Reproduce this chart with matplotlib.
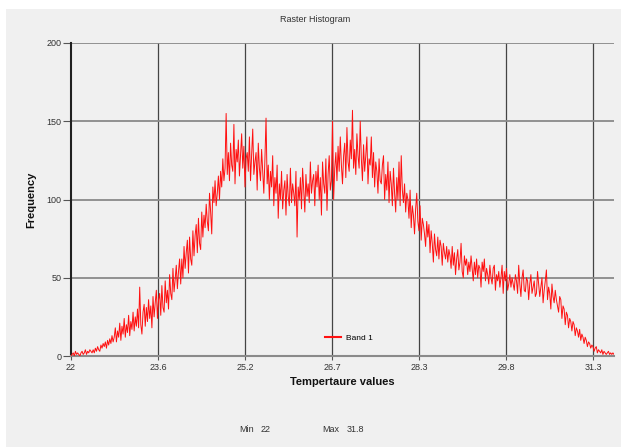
import numpy as np
import matplotlib
matplotlib.use("Agg")
import matplotlib.pyplot as plt
from matplotlib.patches import Rectangle

plt.rcParams['font.family'] = ['Liberation Sans', 'DejaVu Sans']

# histogram bins: start, width, and counts
bin_start = 22.0
bin_width = 0.02
frequency = [
    0, 1, 2, 0, 3, 1, 2, 1, 0, 2, 3, 1, 2, 4, 1, 3, 2, 4, 3, 2,
    4, 2, 5, 3, 6, 4, 3, 7, 5, 8, 6, 9, 5, 10, 7, 11, 8, 13, 9, 12,
    18, 9, 16, 12, 21, 10, 19, 14, 24, 12, 20, 15, 26, 13, 22, 17, 28, 16, 25, 19,
    30, 18, 44, 20, 14, 28, 33, 19, 31, 22, 36, 24, 32, 18, 38, 25, 34, 42, 24, 36,
    40, 26, 45, 31, 28, 48, 34, 42, 30, 52, 40, 36, 56, 41, 49, 58, 43, 54, 62, 46,
    62, 50, 70, 56, 66, 74, 53, 76, 62, 58, 80, 64, 77, 84, 66, 88, 72, 68, 92, 76,
    90, 82, 97, 86, 80, 104, 92, 78, 108, 98, 112, 96, 104, 115, 100, 118, 108, 126, 112, 120,
    155, 116, 130, 112, 136, 122, 118, 148, 110, 132, 124, 138, 115, 128, 142, 120, 134, 108, 126, 130,
    118, 140, 112, 128, 145, 116, 124, 130, 106, 136, 120, 112, 132, 118, 104, 126, 152, 110, 122, 100,
    118, 108, 128, 96, 114, 104, 122, 88, 110, 100, 118, 94, 106, 112, 90, 116, 102, 96, 120, 98,
    110, 104, 96, 118, 76, 108, 100, 114, 94, 120, 106, 92, 116, 102, 110, 98, 124, 104, 112, 116,
    96, 118, 108, 122, 100, 114, 90, 124, 110, 104, 126, 93, 116, 128, 106, 112, 150, 100, 120, 130,
    112, 134, 118, 140, 122, 110, 128, 136, 114, 146, 124, 118, 138, 126, 157, 120, 132, 116, 142, 128,
    120, 150, 126, 112, 135, 118, 128, 140, 110, 126, 122, 140, 114, 130, 108, 124, 118, 104, 126, 112,
    110, 122, 128, 100, 116, 106, 124, 98, 118, 110, 96, 120, 104, 92, 114, 100, 124, 96, 128, 106,
    98, 110, 92, 104, 100, 88, 106, 82, 96, 90, 78, 94, 104, 86, 80, 96, 74, 88, 84, 78,
    70, 86, 76, 84, 66, 80, 72, 60, 78, 68, 64, 76, 62, 74, 70, 58, 72, 66, 62, 70,
    60, 68, 64, 56, 70, 58, 66, 52, 62, 68, 55, 60, 72, 54, 50, 64, 58, 62, 52, 60,
    54, 64, 56, 48, 60, 52, 62, 50, 58, 56, 44, 60, 54, 62, 48, 56, 52, 46, 58, 50,
    46, 56, 58, 42, 52, 48, 54, 44, 50, 58, 40, 54, 48, 56, 42, 46, 52, 44, 50, 46,
    42, 52, 48, 40, 58, 46, 38, 50, 55, 42, 41, 50, 48, 36, 46, 52, 40, 44, 48, 38,
    40, 54, 46, 38, 44, 50, 34, 42, 48, 55, 36, 44, 40, 30, 46, 38, 34, 42, 36, 32,
    28, 38, 36, 24, 32, 30, 20, 28, 26, 18, 24, 22, 16, 22, 20, 13, 18, 16, 12, 17,
    10, 14, 12, 8, 12, 10, 6, 9, 8, 5, 7, 6, 3, 5, 6, 2, 4, 3, 2, 4,
    1, 3, 2, 1, 2, 3, 1, 2, 1, 2, 1,
]
temperature = bin_start + bin_width * np.arange(len(frequency))

x_tick_labels = ['22', '23.6', '25.2', '26.7', '28.3', '29.8', '31.3']
x_tick_step = 1.57
y_ticks = [0, 50, 100, 150, 200]
stat_min = 22
stat_max = 31.8

fig = plt.figure(figsize=(6.21, 4.47), dpi=100, facecolor='white')
# grey panel behind everything (white strip left and top)
fig.patches.append(Rectangle((6 / 621, 0), 1, (447 - 9) / 447,
                             transform=fig.transFigure, facecolor='#F0F0F0',
                             edgecolor='none', zorder=-10))

ax = fig.add_axes([71 / 621, 91 / 447, 543 / 621, 313 / 447])
ax.set_facecolor('#F0F0F0')

ax.plot(temperature, frequency, color='#FF1010', lw=0.7, label='Band 1', zorder=3)

ax.set_xlim(bin_start, stat_max)
ax.set_ylim(0, 200)
xt = [bin_start + k * x_tick_step for k in range(len(x_tick_labels))]
ax.set_xticks(xt)
ax.set_xticklabels(x_tick_labels)
ax.set_yticks(y_ticks)

for v in xt[1:]:
    ax.axvline(v, color='#444444', lw=0.9, zorder=1)
for v in y_ticks[1:]:
    ax.axhline(v, color='#8a8a8a', lw=1.3, zorder=1)

ax.spines['left'].set_color('#202020')
ax.spines['left'].set_linewidth(1.5)
ax.spines['bottom'].set_color('#8a8a8a')
ax.spines['bottom'].set_linewidth(1.5)
ax.spines['top'].set_visible(False)
ax.spines['right'].set_visible(False)

ax.tick_params(axis='y', length=6, width=0.8, color='#555555', labelsize=6.5,
               labelcolor='#333333', pad=1)
ax.tick_params(axis='x', length=3, width=0.8, color='#555555', labelsize=6.5,
               labelcolor='#333333', pad=2)

leg = ax.legend(loc='center left', bbox_to_anchor=(317 / 621, (447 - 338) / 447),
                bbox_transform=fig.transFigure, frameon=False, fontsize=6,
                handlelength=2.0, handletextpad=0.6)
for h in leg.get_lines():
    h.set_linewidth(1.5)

fig.text(315 / 621, (447 - 19) / 447, 'Raster Histogram', ha='center', va='center',
         fontsize=6.5, color='#333333')
fig.text(31 / 621, (447 - 200) / 447, 'Frequency', rotation=90, ha='center',
         va='center', fontsize=8, fontweight='bold', color='#111111')
fig.text(342 / 621, (447 - 382) / 447, 'Tempertaure values', ha='center',
         va='center', fontsize=8, fontweight='bold', color='#111111')
fig.text(239 / 621, (447 - 429) / 447, 'Min', ha='left', va='center',
         fontsize=6.5, color='#333333')
fig.text(261 / 621, (447 - 429) / 447, str(stat_min), ha='left', va='center',
         fontsize=6.5, color='#333333')
fig.text(322 / 621, (447 - 429) / 447, 'Max', ha='left', va='center',
         fontsize=6.5, color='#333333')
fig.text(347 / 621, (447 - 429) / 447, str(stat_max), ha='left', va='center',
         fontsize=6.5, color='#333333')

fig.savefig('out.png', dpi=100, facecolor=fig.get_facecolor())
